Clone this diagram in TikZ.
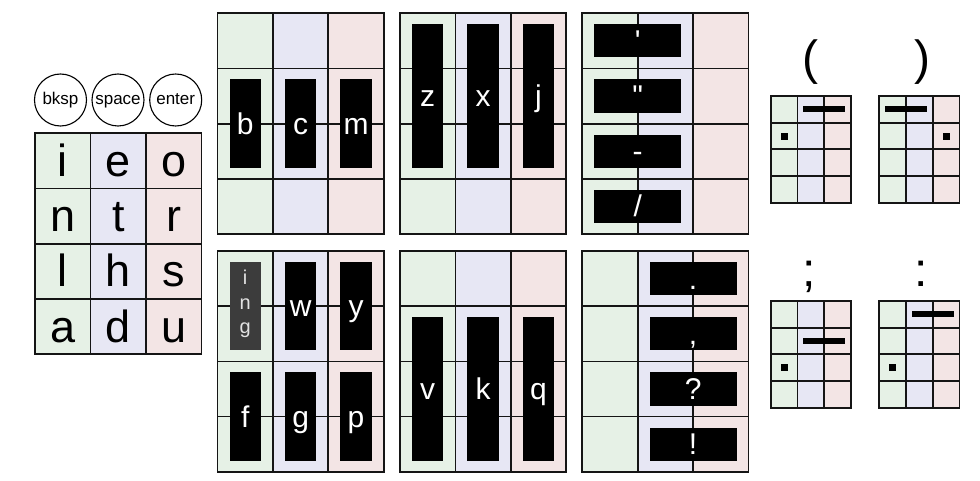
\documentclass[tikz,border=0pt]{standalone}
\usepackage{fontspec}
\setmainfont{Liberation Sans}[Ligatures=TeXOff]
\usetikzlibrary{calc}
\definecolor{cgreen}{HTML}{E6F1E6}
\definecolor{cblue}{HTML}{E7E7F4}
\definecolor{cpink}{HTML}{F3E5E5}
\definecolor{gline}{HTML}{151515}
\definecolor{inggray}{HTML}{3C3C3C}
\definecolor{ingtext}{HTML}{E2E2E2}
\tikzset{
  gridline/.style={draw=gline, line width=1.7pt},
  bigletter/.style={anchor=base, inner sep=0pt, font=\fontsize{45}{54}\selectfont},
  bartext/.style={anchor=base, inner sep=0pt, text=white, font=\fontsize{30}{36}\selectfont},
  ingletter/.style={anchor=base, inner sep=0pt, text=ingtext, font=\fontsize{20}{24}\selectfont},
  punct/.style={anchor=base, inner sep=0pt, font=\fontsize{48}{56}\selectfont},
  keycircle/.style={circle, draw=black, line width=1.1pt, minimum size=52pt, inner sep=0pt, text height=12.5pt, text depth=3.5pt, font=\fontsize{17}{20}\selectfont},
  bigpanel/.style={x=55.4pt, y=-55.2pt},
  smallpanel/.style={x=26.77pt, y=-26.67pt}
}
% colored 3x4 grid in unit coordinates
\newcommand\kgrid{%
  \fill[cgreen] (0,0) rectangle (1,4);
  \fill[cblue] (1,0) rectangle (2,4);
  \fill[cpink] (2,0) rectangle (3,4);
  \foreach \i in {1,2} \draw[gridline] (\i,0) -- (\i,4);
  \foreach \j in {1,2,3} \draw[gridline] (0,\j) -- (3,\j);
  \draw[gridline] (0,0) rectangle (3,4);
}
% black bar with label: name, c1, r1, c2, r2, text
\newcommand\kbar[6]{%
  \fill[black] ($(#2,#3)+(12pt,-11pt)$) rectangle ($(#4,#5)+(-12pt,11pt)$);
  \node[bartext] (#1) at ($(#2,#3)!0.5!(#4,#5)+(0,-10.5pt)$) {#6};
}
% small horizontal bar: c1, c2, row
\newcommand\sbar[3]{%
  \fill[black] ($(#1,#3+0.5)+(6pt,3pt)$) rectangle ($(#2,#3+0.5)+(-6pt,-3pt)$);
}
% small square: col, row
\newcommand\sdot[2]{%
  \fill[black] ($(#1+0.5,#2+0.5)+(-3.5pt,-3.5pt)$) rectangle ($(#1+0.5,#2+0.5)+(3.5pt,3.5pt)$);
}
\begin{document}
\begin{tikzpicture}[x=1pt, y=-1pt]
\useasboundingbox (0,0) rectangle (980,481);

% key circles
\node[keycircle] (bksp) at (60.5,100) {bksp};
\node[keycircle] (space) at (118,100) {space};
\node[keycircle] (enter) at (175.7,100) {enter};

% main letter grid
\begin{scope}[shift={(35pt,-133.3pt)}, x=55.5pt, y=-55.25pt]
  \kgrid
  \foreach \t/\c/\r [count=\k] in {i/0/0, e/1/0, o/2/0, n/0/1, t/1/1, r/2/1, l/0/2, h/1/2, s/2/2, a/0/3, d/1/3, u/2/3}
    \node[bigletter] (main\k) at ($(\c+0.5,\r+0.5)+(0,-15.5pt)$) {\t};
\end{scope}

% panel b c m
\begin{scope}[shift={(217.5pt,-13.3pt)}, bigpanel]
  \kgrid
  \kbar{pb}{0}{1}{1}{3}{b}
  \kbar{pc}{1}{1}{2}{3}{c}
  \kbar{pm}{2}{1}{3}{3}{m}
\end{scope}

% panel z x j
\begin{scope}[shift={(400pt,-13.3pt)}, bigpanel]
  \kgrid
  \kbar{pz}{0}{0}{1}{3}{z}
  \kbar{px}{1}{0}{2}{3}{x}
  \kbar{pj}{2}{0}{3}{3}{j}
\end{scope}

% panel ' " - /
\begin{scope}[shift={(582.3pt,-13.3pt)}, bigpanel]
  \kgrid
  \kbar{papos}{0}{0}{2}{1}{'}
  \kbar{pquot}{0}{1}{2}{2}{"}
  \kbar{pdash}{0}{2}{2}{3}{-}
  \kbar{pslash}{0}{3}{2}{4}{/}
\end{scope}

% panel ing w y / f g p
\begin{scope}[shift={(217.5pt,-251pt)}, bigpanel]
  \kgrid
  \fill[inggray] ($(0,0)+(12pt,-11pt)$) rectangle ($(1,2)+(-12pt,11pt)$);
  \node[ingletter] (ingi) at ($(0.5,1)+(0,22pt)$) {i};
  \node[ingletter] (ingn) at ($(0.5,1)+(0,-3pt)$) {n};
  \node[ingletter] (ingg) at ($(0.5,1)+(0,-27.5pt)$) {g};
  \kbar{pw}{1}{0}{2}{2}{w}
  \kbar{py}{2}{0}{3}{2}{y}
  \kbar{pf}{0}{2}{1}{4}{f}
  \kbar{pg}{1}{2}{2}{4}{g}
  \kbar{pp}{2}{2}{3}{4}{p}
\end{scope}

% panel v k q
\begin{scope}[shift={(400pt,-251pt)}, bigpanel]
  \kgrid
  \kbar{pv}{0}{1}{1}{4}{v}
  \kbar{pk}{1}{1}{2}{4}{k}
  \kbar{pq}{2}{1}{3}{4}{q}
\end{scope}

% panel . , ? !
\begin{scope}[shift={(582.3pt,-251pt)}, bigpanel]
  \kgrid
  \kbar{pdot}{1}{0}{3}{1}{.}
  \kbar{pcomma}{1}{1}{3}{2}{,}
  \kbar{pquest}{1}{2}{3}{3}{?}
  \kbar{pexcl}{1}{3}{3}{4}{!}
\end{scope}

% small grids and their symbols
\node[punct] (lparen) at (810,75) {(};
\node[punct] (rparen) at (922,75) {)};
\node[punct] (semi) at (809.5,286) {;};
\node[punct] (colon) at (921,286) {:};

\begin{scope}[shift={(770.7pt,-96pt)}, smallpanel]
  \kgrid
  \sbar{1}{3}{0}
  \sdot{0}{1}
\end{scope}
\begin{scope}[shift={(879.3pt,-96pt)}, smallpanel]
  \kgrid
  \sbar{0}{2}{0}
  \sdot{2}{1}
\end{scope}
\begin{scope}[shift={(770.7pt,-301pt)}, smallpanel]
  \kgrid
  \sbar{1}{3}{1}
  \sdot{0}{2}
\end{scope}
\begin{scope}[shift={(879.3pt,-301pt)}, smallpanel]
  \kgrid
  \sbar{1}{3}{0}
  \sdot{0}{2}
\end{scope}
\end{tikzpicture}
\end{document}
